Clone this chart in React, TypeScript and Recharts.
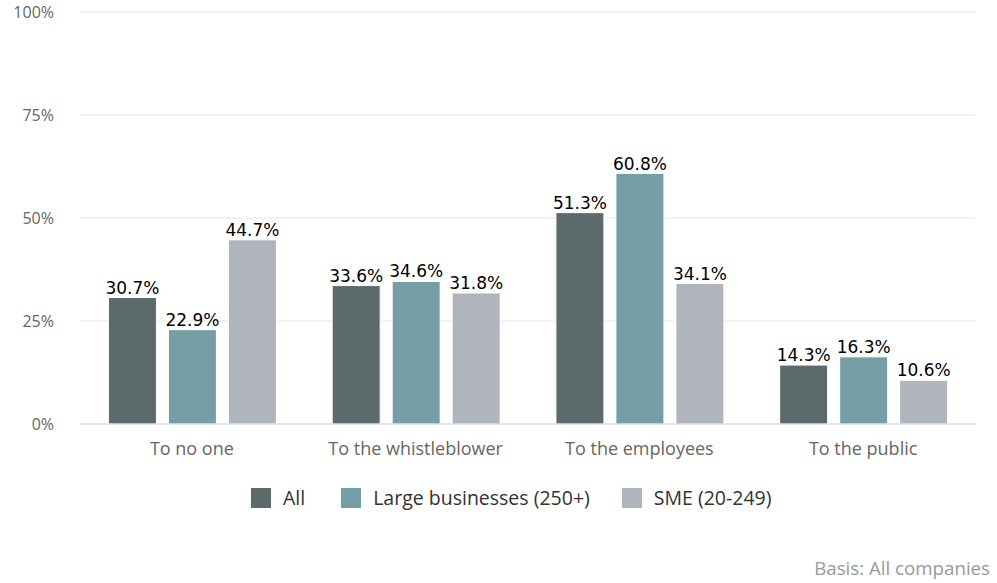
import React from 'react';
import { BarChart, Bar, XAxis, YAxis, CartesianGrid, LabelList } from 'recharts';

const categories = ['To no one', 'To the whistleblower', 'To the employees', 'To the public'];
const allValues = [30.7, 33.6, 51.3, 14.3];
const largeValues = [22.9, 34.6, 60.8, 16.3];
const smeValues = [44.7, 31.8, 34.1, 10.6];
const yTicks = [0, 25, 50, 75, 100];

const seriesNames = ['All', 'Large businesses (250+)', 'SME (20-249)'];
const colors = ['#5b6a6a', '#769fa5', '#b0b4bc'];

const data = categories.map((c, i) => ({
  name: c,
  all: allValues[i],
  large: largeValues[i],
  sme: smeValues[i],
}));

const FONT = "'Open Sans', 'Noto Sans', sans-serif";
const LABEL_FONT = "'DejaVu Sans', sans-serif";

const fmt = (v: number) => `${v.toFixed(1)}%`;

export default function App() {
  const keys = ['all', 'large', 'sme'];
  const itemGaps = [36, 32, 0];
  return (
    <div style={{ position: 'absolute', left: 0, top: 0, width: 997, height: 583, background: '#fff' }}>
      <BarChart
        width={997}
        height={583}
        data={data}
        margin={{ top: 12, right: 22, bottom: 119, left: 0 }}
        barCategoryGap="12.7%"
        barGap={12}
      >
        <CartesianGrid vertical={false} stroke="#e6e6e6" />
        <XAxis
          dataKey="name"
          axisLine={{ stroke: '#ccd6eb' }}
          tickLine={false}
          height={40}
          tick={{ fill: '#666666', fontSize: 18, fontFamily: FONT }}
          tickMargin={12}
        />
        <YAxis
          domain={[0, 100]}
          ticks={yTicks}
          width={80}
          axisLine={false}
          tickLine={false}
          tickSize={0}
          tickMargin={26}
          tickFormatter={(v: number) => `${v}%`}
          tick={{ fill: '#666666', fontSize: 16, fontFamily: FONT }}
        />
        {keys.map((k, i) => (
          <Bar key={k} dataKey={k} name={seriesNames[i]} fill={colors[i]} stroke="#ffffff" strokeWidth={1} isAnimationActive={false}>
            <LabelList
              dataKey={k}
              position="top"
              offset={4}
              formatter={fmt}
              style={{ fill: '#000000', fontSize: 17, fontFamily: LABEL_FONT }}
            />
          </Bar>
        ))}
      </BarChart>
      <div
        style={{
          position: 'absolute',
          top: 484,
          left: 251,
          display: 'flex',
          alignItems: 'center',
          fontFamily: FONT,
          fontSize: 19.5,
          color: '#333333',
          lineHeight: '28px',
        }}
      >
        {seriesNames.map((n, i) => (
          <div key={n} style={{ display: 'flex', alignItems: 'center', marginRight: itemGaps[i] }}>
            <span style={{ display: 'inline-block', width: 20, height: 20, background: colors[i], marginRight: 12 }} />
            <span>{n}</span>
          </div>
        ))}
      </div>
      <div
        style={{
          position: 'absolute',
          right: 7,
          top: 555,
          fontFamily: FONT,
          fontSize: 18.7,
          color: '#999999',
        }}
      >
        Basis: All companies
      </div>
    </div>
  );
}
